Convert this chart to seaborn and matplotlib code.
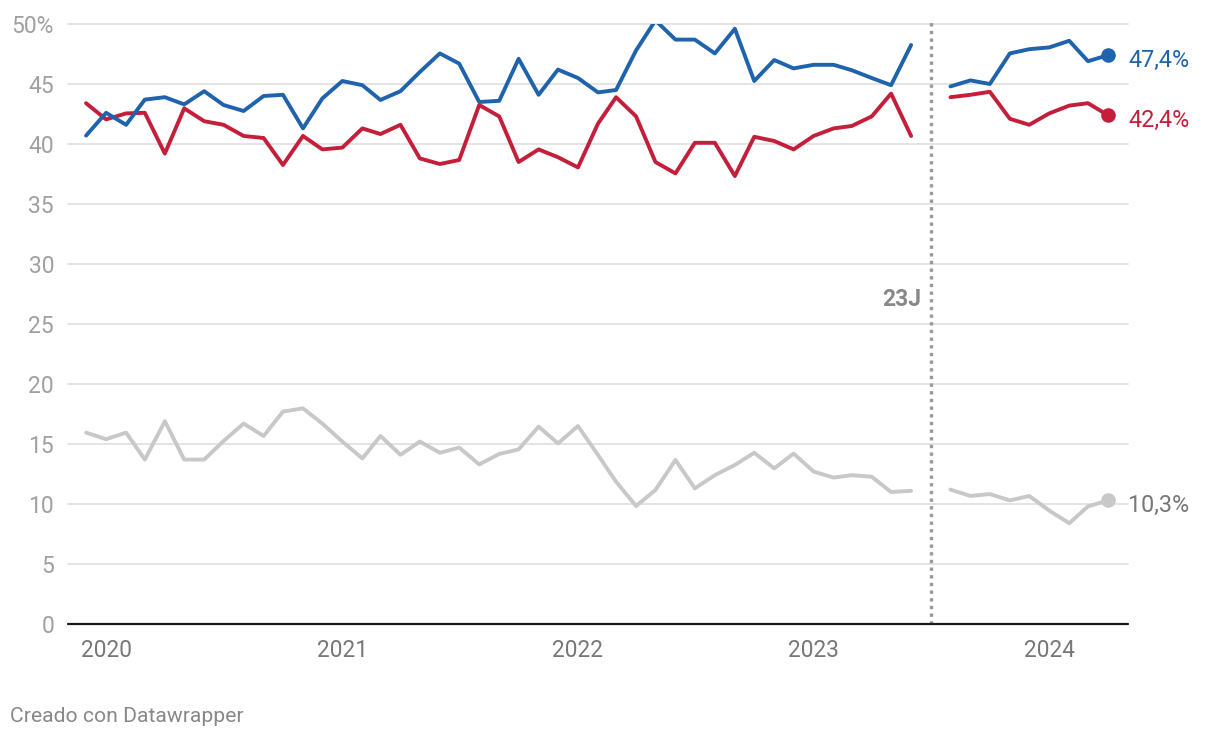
import numpy as np
import pandas as pd
import matplotlib
matplotlib.use("Agg")
import matplotlib.pyplot as plt
import seaborn as sns

# Monthly estimates
meses_antes = pd.date_range("2019-12-01", "2023-06-01", freq="MS")
meses_despues = pd.date_range("2023-08-01", "2024-04-01", freq="MS")

azul_antes = [40.7, 42.6, 41.6, 43.7, 43.9, 43.3, 44.4, 43.25, 42.75, 44.0,
              44.1, 41.3, 43.8, 45.25, 44.9, 43.67, 44.4, 46.0, 47.55, 46.7,
              43.5, 43.6, 47.1, 44.1, 46.2, 45.5, 44.3, 44.5, 47.8, 50.3,
              48.7, 48.7, 47.55, 49.6, 45.25, 47.0, 46.3, 46.6, 46.6, 46.15,
              45.5, 44.9, 48.25]
rojo_antes = [43.4, 42.05, 42.55, 42.6, 39.2, 42.97, 41.9, 41.6, 40.67, 40.5,
              38.25, 40.67, 39.55, 39.7, 41.3, 40.83, 41.6, 38.8, 38.33, 38.67,
              43.25, 42.3, 38.5, 39.55, 38.9, 38.05, 41.7, 43.9, 42.3, 38.5,
              37.55, 40.1, 40.1, 37.33, 40.6, 40.25, 39.55, 40.67, 41.3, 41.5,
              42.3, 44.2, 40.67]
gris_antes = [15.95, 15.4, 15.95, 13.7, 16.9, 13.7, 13.7, 15.25, 16.7, 15.67,
              17.7, 17.97, 16.7, 15.2, 13.8, 15.67, 14.1, 15.2, 14.27, 14.7,
              13.3, 14.17, 14.55, 16.45, 15.05, 16.5, 14.08, 11.86, 9.83, 11.17,
              13.67, 11.3, 12.4, 13.25, 14.27, 12.97, 14.2, 12.7, 12.2, 12.4,
              12.27, 11.0, 11.1]

azul_despues = [44.8, 45.3, 45.0, 47.55, 47.9, 48.05, 48.6, 46.9, 47.4]
rojo_despues = [43.9, 44.1, 44.35, 42.1, 41.6, 42.55, 43.2, 43.4, 42.4]
gris_despues = [11.2, 10.67, 10.83, 10.3, 10.67, 9.45, 8.4, 9.8, 10.3]

series = ["azul", "rojo", "gris"]
colores = {"azul": "#1f63ad", "rojo": "#c41e3a", "gris": "#c8c8c8"}
color_etiqueta = {"azul": "#1f63ad", "rojo": "#c41e3a", "gris": "#777777"}
anios = [2020, 2021, 2022, 2023, 2024]
yticks = [0, 5, 10, 15, 20, 25, 30, 35, 40, 45, 50]
fecha_eleccion = pd.Timestamp("2023-07-02")

antes = {"azul": azul_antes, "rojo": rojo_antes, "gris": gris_antes}
despues = {"azul": azul_despues, "rojo": rojo_despues, "gris": gris_despues}

filas = []
for s in series:
    for f, v in zip(meses_antes, antes[s]):
        filas.append((f, v, s, "antes"))
    for f, v in zip(meses_despues, despues[s]):
        filas.append((f, v, s, "despues"))
df = pd.DataFrame(filas, columns=["fecha", "valor", "serie", "tramo"])

sns.set_style("white")
plt.rcParams['font.family'] = ['Roboto', 'DejaVu Sans']

fig = plt.figure(figsize=(12.2, 7.4), dpi=100)
ax = fig.add_axes([68 / 1220, 1 - 624 / 740, 1060 / 1220, 600 / 740])

for s in ["gris", "rojo", "azul"]:
    sub = df[df["serie"] == s]
    sns.lineplot(data=sub, x="fecha", y="valor", units="tramo", estimator=None,
                 color=colores[s], linewidth=2.8, ax=ax, zorder=3,
                 solid_joinstyle="round", solid_capstyle="round")
    ultimo = sub.iloc[-1]
    ax.scatter([ultimo["fecha"]], [ultimo["valor"]], s=110, color=colores[s],
               zorder=4, linewidths=0, clip_on=False)
    ax.annotate(f"{ultimo['valor']:.1f}%".replace(".", ","),
                xy=(ultimo["fecha"], ultimo["valor"]), xytext=(14.5, -3.5),
                textcoords="offset points", va="center", ha="left",
                fontsize=16.8, color=color_etiqueta[s], annotation_clip=False)

ax.set_xlim(pd.Timestamp("2019-11-03"), pd.Timestamp("2024-05-02"))
ax.set_ylim(0, 50)

for v in yticks[1:]:
    ax.axhline(v, color="#e2e2e2", linewidth=1.3, zorder=1, clip_on=False)
ax.axhline(0, color="#1a1a1a", linewidth=1.6, zorder=5, clip_on=False)

ax.axvline(fecha_eleccion, ymin=0, ymax=50.35 / 50, color="#999999",
           linewidth=2.4, linestyle=(0, (1, 1.3)), zorder=2, clip_on=False)
ax.annotate("23J", xy=(fecha_eleccion, 27), xytext=(-7, 0),
            textcoords="offset points", ha="right", va="center",
            fontsize=16.5, fontweight="bold", color="#888888")

ax.set_yticks(yticks)
ax.set_yticklabels([f"{v}%" if v == 50 else str(v) for v in yticks])
ax.set_xticks([pd.Timestamp(f"{a}-01-01") for a in anios])
ax.set_xticklabels([str(a) for a in anios])
ax.tick_params(axis="y", length=0, pad=10, labelsize=16.5, labelcolor="#a0a0a0")
ax.tick_params(axis="x", length=0, pad=11, labelsize=16.3, labelcolor="#777777")
ax.set_xlabel("")
ax.set_ylabel("")
for sp in ax.spines.values():
    sp.set_visible(False)
ax.grid(False)

fig.text(10 / 1220, 1 - 716 / 740, "Creado con Datawrapper", fontsize=15.2,
         color="#888888", ha="left", va="center")

fig.savefig("out.png", dpi=100)
